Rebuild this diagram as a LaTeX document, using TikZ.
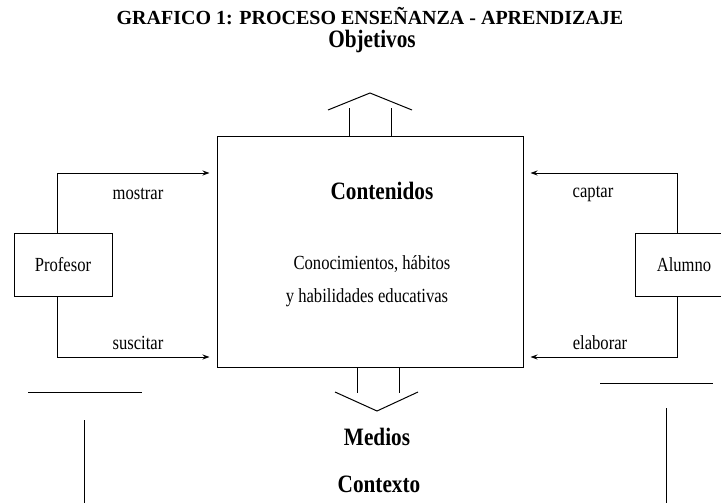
\documentclass[tikz,border=0pt]{standalone}
\usepackage{fontspec}
\setmainfont{Liberation Serif}
\usetikzlibrary{calc}
\usetikzlibrary{arrows.meta}

\newcommand{\grande}[1]{\scalebox{0.85}[1]{\fontsize{25}{25}\selectfont\bfseries #1}}
\newcommand{\chico}[1]{\scalebox{0.83}[1]{\fontsize{20}{20}\selectfont #1}}

\begin{document}
\begin{tikzpicture}[x=1pt,y=-1pt,
	caja/.style={draw,line width=1pt,inner sep=0pt},
	flecha/.style={line width=1pt,-{Stealth[length=7pt,width=5pt]},shorten >=7pt},
	linea/.style={line width=1pt}]
	
	\useasboundingbox (0,0) rectangle (721,503);
	\clip (0,0) rectangle (721,503);
	
	% titulo
	\node (titulo) at (370,16) {\fontsize{20}{22}\selectfont\bfseries GRAFICO 1: PROCESO ENSEÑANZA - APRENDIZAJE};
	\node (obj) at (372,41) {\grande{Objetivos}};
	
	% cajas
	\node[caja,minimum width=306pt,minimum height=231pt] (cont) at (370,251.5) {};
	\node[caja,minimum width=98pt,minimum height=63pt] (prof) at (63,264.5) {\chico{Profesor}};
	\node[caja,minimum width=98pt,minimum height=63pt] (alum) at (684,264.5) {\chico{Alumno}};
	
	\node (tcont) at (382,191) {\grande{Contenidos}};
	\node (con1) at (372,264) {\chico{Conocimientos, hábitos}};
	\node (con2) at (367,298) {\chico{y habilidades educativas}};
	
	% flechas de los lados
	\draw[flecha] ([xshift=-6pt]prof.north) |- ([yshift=78.5pt]cont.west);
	\draw[flecha] ([xshift=-6pt]prof.south) |- ([yshift=-105.5pt]cont.west);
	\draw[flecha] ([xshift=-7pt]alum.north) |- ([yshift=78.5pt]cont.east);
	\draw[flecha] ([xshift=-7pt]alum.south) |- ([yshift=-105.5pt]cont.east);
	
	\node (mos) at (138,194) {\chico{mostrar}};
	\node (sus) at (138,343) {\chico{suscitar}};
	\node (cap) at (593,194) {\chico{captar}};
	\node (ela) at (600,343) {\chico{elaborar}};
	
	% flecha arriba
	\draw[linea] (349,136) -- (349,108);
	\draw[linea] (391,136) -- (391,108);
	\draw[linea] (328,110) -- (370,93) -- (412,110);
	
	% flecha abajo
	\draw[linea] (357,367) -- (357,393);
	\draw[linea] (399,367) -- (399,393);
	\draw[linea] (335,392) -- (377,411) -- (418,392);
	
	\node (med) at (377,437) {\grande{Medios}};
	\node (ctx) at (379,484) {\grande{Contexto}};
	
	% lineas de abajo
	\draw[linea] (28,392) -- (142,392);
	\draw[linea] (84,420) -- (84,503);
	\draw[linea] (600,383) -- (713,383);
	\draw[linea] (666,408) -- (666,503);
	
\end{tikzpicture}
\end{document}
